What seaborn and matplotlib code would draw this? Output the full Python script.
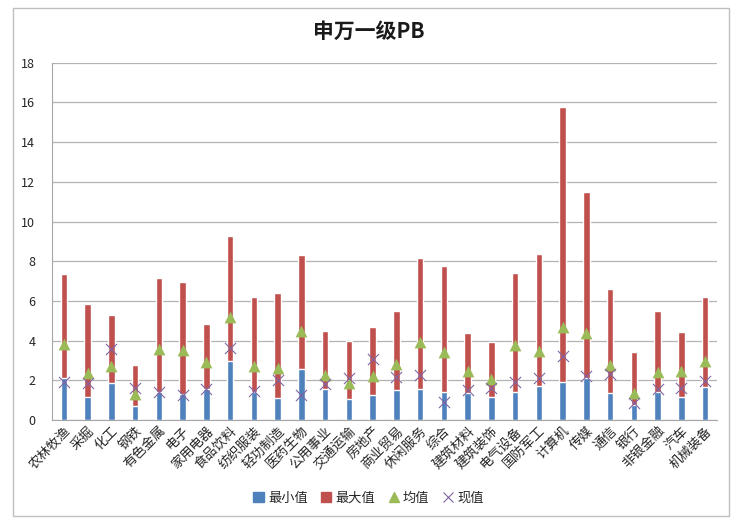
import numpy as np
import pandas as pd
import matplotlib
matplotlib.use('Agg')
import matplotlib.pyplot as plt
import seaborn as sns
from matplotlib.patches import Patch, Rectangle
from matplotlib.lines import Line2D

# data
industries = ['农林牧渔', '采掘', '化工', '钢铁', '有色金属', '电子', '家用电器', '食品饮料',
              '纺织服装', '轻功制造', '医药生物', '公用事业', '交通运输', '房地产', '商业贸易',
              '休闲服务', '综合', '建筑材料', '建筑装饰', '电气设备', '国防军工', '计算机',
              '传媒', '通信', '银行', '非银金融', '汽车', '机械装备']
pb_min = [2.1, 1.18, 1.85, 0.7, 1.43, 1.3, 1.55, 2.99,
          1.43, 1.13, 2.55, 1.55, 1.08, 1.26, 1.51,
          1.55, 1.43, 1.34, 1.14, 1.43, 1.73, 1.9,
          2.13, 1.34, 0.76, 1.43, 1.14, 1.65]
pb_max = [7.36, 5.83, 5.27, 2.77, 7.15, 6.94, 4.82, 9.27,
          6.21, 6.38, 8.33, 4.5, 3.96, 4.7, 5.47,
          8.18, 7.74, 4.38, 3.92, 7.39, 8.36, 15.79,
          11.49, 6.58, 3.45, 5.47, 4.42, 6.2]
pb_mean = [3.83, 2.36, 2.7, 1.32, 3.6, 3.51, 2.9, 5.17,
           2.7, 2.6, 4.5, 2.27, 1.88, 2.22, 2.84,
           3.92, 3.45, 2.48, 2.06, 3.78, 3.46, 4.7,
           4.4, 2.77, 1.34, 2.44, 2.49, 2.99]
pb_now = [1.93, 1.85, 3.58, 1.6, 1.43, 1.27, 1.57, 3.65,
          1.44, 2.0, 1.25, 1.82, 2.1, 3.05, 2.18,
          2.27, 0.89, 1.53, 1.63, 1.93, 2.12, 3.2,
          2.22, 2.33, 0.87, 1.58, 1.62, 1.96]

df = pd.DataFrame({'行业': industries, '最小值': pb_min, '最大值': pb_max,
                   '均值': pb_mean, '现值': pb_now})

sns.set_style('white')
plt.rcParams['font.family'] = ['Noto Sans CJK SC', 'DejaVu Sans']

blue = '#4F81BD'
red = '#C0504D'
green = '#9BBB59'
purple = '#8064A2'

fig = plt.figure(figsize=(7.37, 5.2), dpi=100)
ax = fig.add_axes([52 / 737, 1 - 420 / 520, (717 - 52) / 737, (420 - 62.7) / 520])

# red bar up to max, blue bar up to min drawn over it (= stacked look)
sns.barplot(data=df, x='行业', y='最大值', color=red, width=0.27, saturation=1, ax=ax)
sns.barplot(data=df, x='行业', y='最小值', color=blue, width=0.27, saturation=1, ax=ax)
sns.stripplot(data=df, x='行业', y='均值', color=green, marker='^', size=8.5,
              jitter=False, ax=ax, zorder=5)
sns.stripplot(data=df, x='行业', y='现值', color=purple, marker='x', size=8,
              linewidth=0.8, jitter=False, ax=ax, zorder=6)

ax.set_ylim(0, 18)
ax.set_yticks(range(0, 19, 2))
ax.set_xlim(-0.5, len(industries) - 0.5)
ax.yaxis.grid(True, color='#B3B3B3', linewidth=0.9)
ax.set_axisbelow(True)
for s in ['top', 'right']:
    ax.spines[s].set_visible(False)
ax.spines['left'].set_color('#A6A6A6')
ax.spines['bottom'].set_color('#A6A6A6')
ax.set_xlabel('')
ax.set_ylabel('')
ax.tick_params(axis='y', length=0, labelsize=9, pad=12, colors='#262626')
ax.tick_params(axis='x', length=0, labelsize=9.5, pad=3, colors='#262626')
plt.setp(ax.get_xticklabels(), rotation=45, ha='right', rotation_mode='anchor')

fig.text(0.5, 0.94, '申万一级PB', ha='center', va='center', fontsize=15,
         fontweight='bold', color='#1a1a1a')

handles = [Patch(color=blue, label='最小值'),
           Patch(color=red, label='最大值'),
           Line2D([], [], color=green, marker='^', linestyle='none', markersize=7, label='均值'),
           Line2D([], [], color=purple, marker='x', linestyle='none', markersize=7,
                  markeredgewidth=0.8, label='现值')]
fig.legend(handles=handles, loc='center', bbox_to_anchor=(0.5, 0.042), ncol=4,
           frameon=False, fontsize=9.5, handlelength=0.8, handletextpad=0.3,
           columnspacing=1.0)

# outer chart frame
fig.patches.append(Rectangle((13 / 737, 4 / 520), 716 / 737, 508 / 520,
                             transform=fig.transFigure, fill=False,
                             edgecolor='#BFBFBF', linewidth=1))

fig.savefig('out.png', dpi=100)
